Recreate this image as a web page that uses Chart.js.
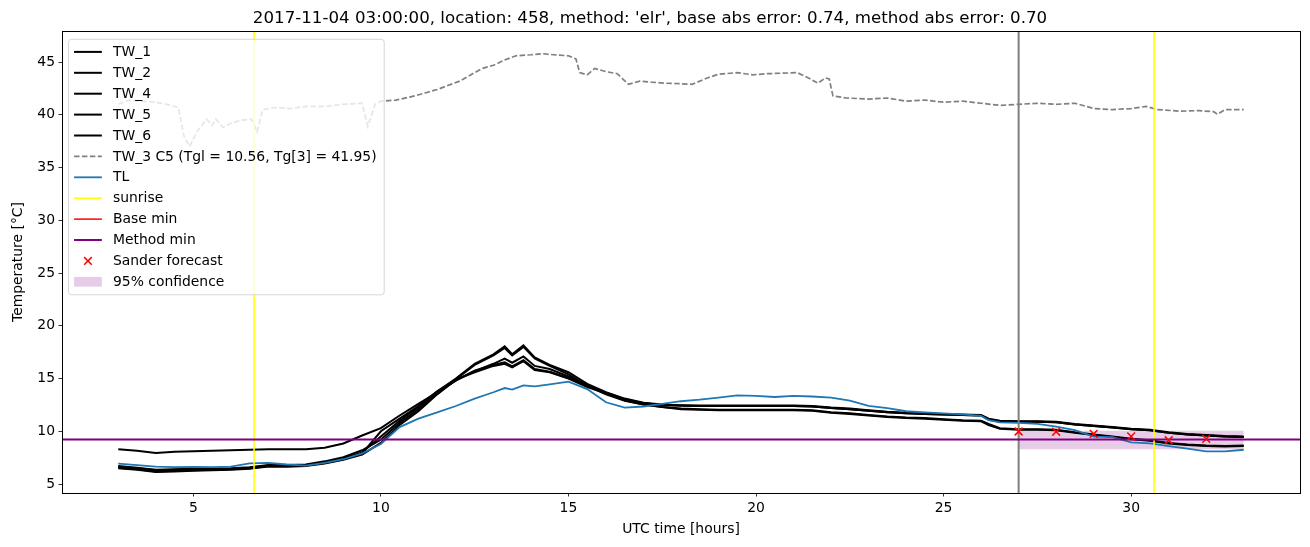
<!DOCTYPE html>
<html>
<head>
<meta charset="utf-8">
<script src="https://cdn.jsdelivr.net/npm/chart.js@4.4.1/dist/chart.umd.min.js"></script>
<style>
  html, body { margin: 0; padding: 0; background: #fff; }
  canvas { display: block; }
</style>
</head>
<body>
<canvas id="tempChart" width="1310" height="547"></canvas>
<script>
// 시간축 (UTC hours)
const T = [3, 3.5, 4, 4.5, 5, 5.5, 6, 6.5, 7, 7.5, 8, 8.5, 9, 9.5, 10, 10.5, 11, 11.5, 12, 12.5,
  13, 13.3, 13.5, 13.8, 14.1, 14.5, 15, 15.5, 16, 16.5, 17, 17.5, 18, 18.5, 19, 19.5, 20, 20.5,
  21, 21.5, 22, 22.5, 23, 23.5, 24, 24.5, 25, 25.5, 26, 26.2, 26.5, 27, 27.5, 28, 28.5, 29, 29.5,
  30, 30.5, 31, 31.5, 32, 32.5, 33];

const TW_1 = [8.30, 8.15, 7.95, 8.05, 8.10, 8.15, 8.20, 8.25, 8.30, 8.30, 8.30, 8.45, 8.85, 9.60, 10.30, 11.50, 12.60, 13.70, 14.80, 15.70,
  16.40, 16.90, 16.50, 17.10, 16.20, 15.90, 15.20, 14.40, 13.60, 13.00, 12.65, 12.50, 12.45, 12.40, 12.40, 12.40, 12.40, 12.40,
  12.40, 12.35, 12.20, 12.10, 11.95, 11.80, 11.70, 11.65, 11.60, 11.55, 11.50, 11.10, 10.90, 10.90, 10.90, 10.85, 10.65, 10.50, 10.35,
  10.20, 10.10, 9.85, 9.70, 9.60, 9.50, 9.45];
const TW_2 = [6.65, 6.50, 6.30, 6.35, 6.40, 6.40, 6.45, 6.55, 6.75, 6.75, 6.80, 7.05, 7.45, 8.00, 9.50, 11.00, 12.30, 13.75, 15.00, 16.40,
  17.30, 18.05, 17.30, 18.15, 17.00, 16.30, 15.60, 14.50, 13.70, 13.10, 12.70, 12.55, 12.45, 12.45, 12.45, 12.45, 12.45, 12.45,
  12.45, 12.40, 12.25, 12.15, 12.00, 11.85, 11.75, 11.70, 11.65, 11.60, 11.55, 11.20, 11.00, 10.95, 10.95, 10.90, 10.70, 10.55, 10.40,
  10.25, 10.15, 9.90, 9.75, 9.65, 9.55, 9.50];
const TW_4 = [6.55, 6.40, 6.20, 6.25, 6.30, 6.35, 6.40, 6.50, 6.70, 6.70, 6.75, 7.00, 7.35, 7.90, 10.00, 11.20, 12.40, 13.80, 14.95, 16.30,
  17.20, 17.90, 17.20, 18.00, 16.90, 16.20, 15.40, 14.30, 13.50, 12.90, 12.55, 12.30, 12.15, 12.10, 12.05, 12.05, 12.05, 12.05,
  12.05, 12.00, 11.80, 11.70, 11.55, 11.40, 11.30, 11.25, 11.15, 11.05, 11.00, 10.70, 10.30, 10.20, 10.20, 10.15, 9.90, 9.70, 9.50,
  9.30, 9.15, 8.90, 8.75, 8.65, 8.60, 8.65];
const TW_5 = [6.50, 6.35, 6.15, 6.20, 6.25, 6.30, 6.35, 6.45, 6.65, 6.65, 6.70, 6.95, 7.30, 7.80, 8.90, 10.60, 11.90, 13.50, 14.90, 15.60,
  16.20, 16.40, 16.05, 16.65, 15.80, 15.60, 15.00, 14.20, 13.60, 12.95, 12.55, 12.30, 12.10, 12.05, 12.00, 12.00, 12.00, 12.00,
  12.00, 11.95, 11.75, 11.65, 11.50, 11.35, 11.25, 11.20, 11.10, 11.00, 10.95, 10.60, 10.25, 10.15, 10.15, 10.10, 9.85, 9.65, 9.45,
  9.25, 9.10, 8.85, 8.70, 8.60, 8.55, 8.60];
const TW_6 = [6.70, 6.55, 6.35, 6.40, 6.45, 6.45, 6.50, 6.60, 6.80, 6.80, 6.85, 7.15, 7.55, 8.20, 9.20, 10.80, 12.10, 13.60, 14.85, 15.75,
  16.30, 16.55, 16.15, 16.75, 15.90, 15.65, 15.05, 14.30, 13.65, 13.05, 12.65, 12.50, 12.45, 12.40, 12.40, 12.40, 12.40, 12.40,
  12.40, 12.35, 12.20, 12.10, 11.95, 11.80, 11.70, 11.65, 11.60, 11.55, 11.50, 11.15, 10.95, 10.90, 10.90, 10.85, 10.65, 10.50, 10.35,
  10.20, 10.10, 9.85, 9.70, 9.60, 9.50, 9.45];
const TL = [6.93, 6.80, 6.65, 6.60, 6.62, 6.60, 6.65, 6.95, 7.00, 6.85, 6.75, 7.00, 7.35, 7.90, 8.80, 10.40, 11.20, 11.80, 12.40, 13.10,
  13.70, 14.10, 13.95, 14.35, 14.25, 14.45, 14.70, 14.00, 12.75, 12.25, 12.35, 12.60, 12.85, 13.00, 13.20, 13.40, 13.35, 13.25,
  13.35, 13.30, 13.20, 12.90, 12.40, 12.20, 11.90, 11.80, 11.70, 11.60, 11.45, 11.05, 10.85, 10.80, 10.70, 10.45, 10.10, 9.50, 9.45,
  8.95, 8.85, 8.60, 8.35, 8.10, 8.10, 8.25];

// TW_3 (C5) - 별도 시간축
const TW3_T = [3.0, 3.3, 3.6, 4.0, 4.3, 4.6, 4.75, 4.9, 5.1, 5.35, 5.5, 5.6, 5.8, 6.0, 6.3, 6.55, 6.7, 6.85, 7.2, 7.6,
  8.0, 8.5, 9.0, 9.5, 9.65, 9.85, 10.0, 10.4, 10.9, 11.2, 11.5, 11.8, 12.1, 12.4, 12.7, 13.0, 13.3, 13.6, 14.0, 14.3,
  14.6, 15.0, 15.2, 15.3, 15.5, 15.7, 16.0, 16.3, 16.6, 16.9, 17.2, 17.6, 18.0, 18.3, 18.7, 19.0, 19.5, 19.9, 20.3, 20.7,
  21.1, 21.4, 21.65, 21.85, 21.95, 22.05, 22.4, 23.0, 23.5, 24.0, 24.5, 25.0, 25.5, 26.0, 26.5, 27.0, 27.5, 28.0, 28.5, 29.0,
  29.5, 30.0, 30.4, 30.7, 31.3, 31.8, 32.2, 32.3, 32.5, 33.0];
const TW3 = [41.0, 41.4, 41.3, 41.2, 41.0, 40.7, 38.0, 37.0, 38.4, 39.6, 39.0, 39.6, 38.8, 39.2, 39.5, 39.6, 38.4, 40.5, 40.7, 40.6,
  40.8, 40.8, 41.0, 41.1, 38.9, 41.0, 41.3, 41.4, 41.8, 42.1, 42.4, 42.8, 43.2, 43.8, 44.4, 44.7, 45.2, 45.6, 45.7, 45.8,
  45.7, 45.6, 45.3, 44.0, 43.8, 44.4, 44.1, 43.9, 42.9, 43.2, 43.1, 43.0, 42.95, 42.9, 43.5, 43.85, 44.0, 43.8, 43.9, 43.95,
  44.0, 43.5, 43.0, 43.5, 43.4, 41.8, 41.6, 41.5, 41.6, 41.3, 41.4, 41.2, 41.3, 41.1, 40.9, 41.0, 41.1, 41.0, 41.1, 40.6,
  40.5, 40.6, 40.8, 40.5, 40.35, 40.4, 40.3, 40.05, 40.5, 40.5];

// 예보 및 기준값
const FC_T = [27, 28, 29, 30, 31, 32];
const FC_V = [9.98, 9.96, 9.75, 9.52, 9.15, 9.28];
const CONF_T = [27, 33];
const CONF_LO = [8.3, 8.3];
const CONF_HI = [10.05, 10.05];
const SUNRISE = [6.62, 30.61];
const FC_START = 27;
const BASE_MIN = 9.22;
const METHOD_MIN = 9.22;

// 축 범위 / 눈금
const X_MIN = 1.5, X_MAX = 34.5;
const Y_MIN = 4.15, Y_MAX = 47.95;
const X_TICKS = [5, 10, 15, 20, 25, 30];
const Y_TICKS = [5, 10, 15, 20, 25, 30, 35, 40, 45];

const FONT = '"DejaVu Sans", sans-serif';
const pts = (xs, ys) => xs.map((x, i) => ({ x, y: ys[i] }));
const vlines = xs => xs.flatMap(x => [{ x, y: Y_MIN }, { x, y: Y_MAX }, { x, y: null }]);
const hline = y => [{ x: X_MIN, y }, { x: X_MAX, y }];

const base = { pointRadius: 0, borderWidth: 1.5, fill: false, tension: 0 };

const datasets = [
  { ...base, label: 'TW_1', data: pts(T, TW_1), borderColor: '#000', borderWidth: 2, order: 15, legend: 'line' },
  { ...base, label: 'TW_2', data: pts(T, TW_2), borderColor: '#000', borderWidth: 2, order: 14, legend: 'line' },
  { ...base, label: 'TW_4', data: pts(T, TW_4), borderColor: '#000', borderWidth: 2, order: 13, legend: 'line' },
  { ...base, label: 'TW_5', data: pts(T, TW_5), borderColor: '#000', borderWidth: 2, order: 12, legend: 'line' },
  { ...base, label: 'TW_6', data: pts(T, TW_6), borderColor: '#000', borderWidth: 2, order: 11, legend: 'line' },
  { ...base, label: 'TW_3 C5 (Tgl = 10.56, Tg[3] = 41.95)', data: pts(TW3_T, TW3), borderColor: '#808080',
    borderWidth: 1.7, borderDash: [5.5, 2.4], order: 10, legend: 'line' },
  { ...base, label: 'TL', data: pts(T, TL), borderColor: '#1f77b4', borderWidth: 1.8, order: 9, legend: 'line' },
  { ...base, label: 'sunrise', data: vlines(SUNRISE), borderColor: '#ffff00', order: 8, legend: 'line' },
  { ...base, label: 'forecast start', data: vlines([FC_START]), borderColor: '#808080', borderWidth: 2, order: 7 },
  { ...base, label: 'Base min', data: hline(BASE_MIN), borderColor: '#ff0000', borderWidth: 1, legendWidth: 1.5, order: 6, legend: 'line' },
  { ...base, label: 'Method min', data: hline(METHOD_MIN), borderColor: '#800080', borderWidth: 2, order: 5, legend: 'line' },
  { ...base, label: 'Sander forecast', data: pts(FC_T, FC_V), showLine: false, pointRadius: 5.5, pointStyle: 'crossRot',
    borderColor: '#ff0000', pointBorderColor: '#ff0000', pointBorderWidth: 1.5, order: 4, legend: 'cross' },
  { ...base, label: 'conf lo', data: pts(CONF_T, CONF_LO), borderWidth: 0, order: 20 },
  { ...base, label: '95% confidence', data: pts(CONF_T, CONF_HI), borderWidth: 0, fill: '-1',
    backgroundColor: 'rgba(128,0,128,0.2)', order: 19, legend: 'patch' }
];

// 축 테두리 (4면)
const framePlugin = {
  id: 'frame',
  afterDatasetsDraw(chart) {
    const { ctx, chartArea: a } = chart;
    ctx.save();
    ctx.strokeStyle = '#000';
    ctx.lineWidth = 1;
    ctx.strokeRect(Math.round(a.left) + 0.5, Math.round(a.top) + 0.5, Math.round(a.width), Math.round(a.height));
    ctx.restore();
  }
};

// matplotlib 스타일 범례 (반투명 박스, 좌상단)
const legendPlugin = {
  id: 'mplLegend',
  afterDatasetsDraw(chart) {
    const { ctx, chartArea: a } = chart;
    const items = chart.data.datasets.filter(d => d.legend);
    const fs = 13.9, pad = 0.4 * fs, handleLen = 2 * fs, gap = 0.8 * fs, rowH = 20.9;
    ctx.save();
    ctx.font = fs + 'px ' + FONT;
    const textW = Math.max(...items.map(d => ctx.measureText(d.label).width));
    const x0 = a.left + 6.5, y0 = a.top + 8.3;
    const w = pad + handleLen + gap + textW + pad + 2;
    const h = 25.6 + rowH * (items.length - 1);
    ctx.beginPath();
    ctx.roundRect(x0, y0, w, h, 3);
    ctx.fillStyle = 'rgba(255,255,255,0.8)';
    ctx.fill();
    ctx.strokeStyle = 'rgba(204,204,204,0.8)';
    ctx.lineWidth = 1;
    ctx.stroke();

    items.forEach((d, i) => {
      const cy = y0 + 12.6 + i * rowH;
      const hx = x0 + pad;
      if (d.legend === 'line') {
        ctx.beginPath();
        ctx.setLineDash(d.borderDash || []);
        ctx.strokeStyle = d.borderColor;
        ctx.lineWidth = d.legendWidth || d.borderWidth;
        ctx.moveTo(hx, cy);
        ctx.lineTo(hx + handleLen, cy);
        ctx.stroke();
        ctx.setLineDash([]);
      } else if (d.legend === 'cross') {
        const cx = hx + handleLen / 2, r = 3.8;
        ctx.beginPath();
        ctx.strokeStyle = d.borderColor;
        ctx.lineWidth = 1.5;
        ctx.moveTo(cx - r, cy - r); ctx.lineTo(cx + r, cy + r);
        ctx.moveTo(cx - r, cy + r); ctx.lineTo(cx + r, cy - r);
        ctx.stroke();
      } else if (d.legend === 'patch') {
        ctx.fillStyle = d.backgroundColor;
        ctx.fillRect(hx, cy - 4.9, handleLen, 9.7);
      }
      ctx.fillStyle = '#000';
      ctx.textAlign = 'left';
      ctx.textBaseline = 'middle';
      ctx.fillText(d.label, hx + handleLen + gap, cy + 0.5);
    });
    ctx.restore();
  }
};

const tickFont = { family: FONT, size: 13.9 };
const tickGrid = { display: true, drawOnChartArea: false, drawTicks: true, tickLength: 3.5, color: '#000', lineWidth: 0.8 };

new Chart(document.getElementById('tempChart').getContext('2d'), {
  type: 'line',
  data: { datasets },
  options: {
    responsive: false,
    animation: false,
    devicePixelRatio: 1,
    events: [],
    layout: { padding: { left: 0, right: 10, top: 0, bottom: 0 } },
    plugins: {
      legend: { display: false },
      tooltip: { enabled: false },
      title: {
        display: true,
        text: "2017-11-04 03:00:00, location: 458, method: 'elr', base abs error: 0.74, method abs error: 0.70",
        color: '#000',
        font: { family: FONT, size: 16.67, weight: 'normal' },
        padding: { top: 9, bottom: 2 }
      }
    },
    scales: {
      x: {
        type: 'linear',
        min: X_MIN, max: X_MAX,
        grid: tickGrid,
        border: { display: false },
        ticks: { font: tickFont, color: '#000', padding: 3.5, maxRotation: 0 },
        afterBuildTicks: s => { s.ticks = X_TICKS.map(v => ({ value: v })); },
        afterFit: s => { s.height = 54; },
        title: { display: true, text: 'UTC time [hours]', color: '#000', font: tickFont, padding: { top: 0, bottom: 9.6 } }
      },
      y: {
        type: 'linear',
        min: Y_MIN, max: Y_MAX,
        grid: tickGrid,
        border: { display: false },
        ticks: { font: tickFont, color: '#000', padding: 3.5 },
        afterBuildTicks: s => { s.ticks = Y_TICKS.map(v => ({ value: v })); },
        afterFit: s => { s.width = 62; },
        title: { display: true, text: 'Temperature [°C]', color: '#000', font: tickFont, padding: { top: 9.6, bottom: 0 } }
      }
    }
  },
  plugins: [framePlugin, legendPlugin]
});
</script>
</body>
</html>
